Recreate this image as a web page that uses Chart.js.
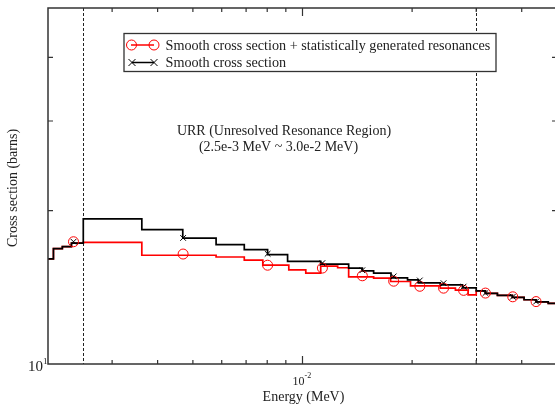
<!DOCTYPE html>
<html>
<head>
<meta charset="utf-8">
<script src="https://cdn.jsdelivr.net/npm/chart.js@4.4.1/dist/chart.umd.min.js"></script>
<style>
html,body{margin:0;padding:0;background:#fff;overflow:hidden;}
#wrap{width:563px;height:406px;}
</style>
</head>
<body>
<div id="wrap"><canvas id="c" width="563" height="406"></canvas></div>
<script>
// ---- data (energies in MeV, cross sections in barns) ----
const blackEdges = [0.002,0.00207,0.00219,0.00232,0.0025,0.00362,0.00469,0.00579,0.00692,0.00802,0.0091,0.01122,0.01339,0.0146,0.01568,0.0175,0.01943,0.0208,0.0239,0.0275,0.030,0.0318,0.0343,0.0377,0.0406,0.0438,0.0473,0.05];
const blackLevels = [16.09,16.84,17.0,17.27,19.27,18.36,17.66,17.15,16.77,16.39,15.90,15.70,15.43,15.24,15.08,14.76,14.63,14.43,14.30,14.11,13.92,13.76,13.64,13.52,13.37,13.24,13.15];
const redEdges = [0.002,0.00207,0.00219,0.00232,0.0025,0.00362,0.00579,0.00692,0.00778,0.00917,0.01021,0.01122,0.01249,0.01339,0.01568,0.01746,0.0198,0.0239,0.0263,0.0285,0.030,0.0318,0.0343,0.0377,0.0406,0.0438,0.0473,0.05];
const redLevels = [16.09,16.84,17.0,17.27,17.33,16.35,16.22,15.99,15.63,15.31,15.08,15.56,15.45,14.83,14.74,14.52,14.24,14.09,13.97,13.67,13.92,13.76,13.64,13.52,13.37,13.24,13.15];
const markerE = [0.00235,0.0047,0.00802,0.01134,0.0146,0.0178,0.0210,0.0244,0.0277,0.0318,0.0378,0.0438];
const redMarkY = [17.38,16.44,15.63,15.43,14.90,14.54,14.21,14.09,13.95,13.78,13.55,13.26];
const blackMarkY = [17.38,17.68,16.46,15.78,15.28,14.86,14.59,14.41,14.19,13.78,13.55,13.26];
const xTicksMinor = [0.003,0.004,0.005,0.006,0.007,0.008,0.009,0.02,0.03,0.04];
const xTicksMajor = [0.01];
const yTicksMinor = [20,30,40];
const urrBounds = [0.0025,0.030];
const legendLabels = ['Smooth cross section + statistically generated resonances','Smooth cross section'];

function steps(edges, levels){
  const pts = levels.map((v,i)=>({x:edges[i], y:v}));
  pts.push({x:edges[edges.length-1], y:levels[levels.length-1]});
  return pts;
}
const SERIF = '"Liberation Serif","DejaVu Serif",serif';
const FRAME = '#333';

const decor = {
  id:'decor',
  beforeDatasetsDraw(chart){
    const {ctx, chartArea:a, scales:{x}} = chart;
    ctx.save();
    ctx.strokeStyle = '#222'; ctx.lineWidth = 1; ctx.setLineDash([3,2]);
    urrBounds.forEach(e=>{
      const px = Math.round(x.getPixelForValue(e))+0.5;
      ctx.beginPath(); ctx.moveTo(px,a.top); ctx.lineTo(px,a.bottom); ctx.stroke();
    });
    ctx.restore();
  },
  afterDatasetsDraw(chart){
    const {ctx, chartArea:a, scales:{x,y}} = chart;
    ctx.save();
    ctx.strokeStyle = FRAME; ctx.lineWidth = 1.5;
    ctx.strokeRect(a.left, a.top, a.right-a.left, a.bottom-a.top);
    ctx.lineWidth = 1.2;
    const tick=(px,len)=>{
      ctx.beginPath(); ctx.moveTo(px,a.bottom); ctx.lineTo(px,a.bottom-len);
      ctx.moveTo(px,a.top); ctx.lineTo(px,a.top+len); ctx.stroke();
    };
    xTicksMinor.forEach(v=>tick(x.getPixelForValue(v),4));
    xTicksMajor.forEach(v=>tick(x.getPixelForValue(v),8));
    yTicksMinor.forEach(v=>{
      const py = y.getPixelForValue(v);
      ctx.beginPath(); ctx.moveTo(a.left,py); ctx.lineTo(a.left+5,py);
      ctx.moveTo(a.right,py); ctx.lineTo(a.right-5,py); ctx.stroke();
    });
    ctx.fillStyle = '#222';
    ctx.textBaseline = 'alphabetic';
    ctx.font = '15px '+SERIF; ctx.textAlign='right';
    const y10 = y.getPixelForValue(10);
    ctx.fillText('10', a.left-5, y10+7);
    ctx.font = '9px '+SERIF; ctx.textAlign='left';
    ctx.fillText('1', a.left-5, y10);
    const x01 = x.getPixelForValue(0.01);
    ctx.font = '12px '+SERIF; ctx.textAlign='right';
    ctx.fillText('10', x01+2, a.bottom+21);
    ctx.font = '8px '+SERIF; ctx.textAlign='left';
    ctx.fillText('-2', x01+2, a.bottom+14);
    ctx.font = '14px '+SERIF; ctx.textAlign='center';
    ctx.fillText('Energy (MeV)', (x01+1), a.bottom+37);
    ctx.save();
    ctx.translate(17, 188); ctx.rotate(-Math.PI/2);
    ctx.fillText('Cross section (barns)', 0, 0);
    ctx.restore();
    ctx.font = '14px '+SERIF;
    ctx.fillText('URR (Unresolved Resonance Region)', 284, 135);
    ctx.fillText('(2.5e-3 MeV ~ 3.0e-2 MeV)', 278.5, 151);
    ctx.fillStyle='#fff';
    ctx.fillRect(124,33.5,372,38);
    ctx.strokeStyle = FRAME; ctx.lineWidth=1.3;
    ctx.strokeRect(124,33.5,372,38);
    ctx.fillStyle='#222'; ctx.textAlign='left';
    ctx.font = '14.2px '+SERIF;
    ctx.fillText(legendLabels[0], 165.5, 50);
    ctx.fillText(legendLabels[1], 165.5, 67);
    ctx.lineWidth=1.5; ctx.strokeStyle='#ff0000';
    ctx.beginPath(); ctx.moveTo(131,45); ctx.lineTo(154,45); ctx.stroke();
    ctx.lineWidth=1;
    [131.5,154].forEach(cx=>{ctx.beginPath(); ctx.arc(cx,45,5,0,Math.PI*2); ctx.stroke();});
    ctx.strokeStyle='#000'; ctx.lineWidth=1.5;
    ctx.beginPath(); ctx.moveTo(132,62.5); ctx.lineTo(154,62.5); ctx.stroke();
    ctx.lineWidth=1;
    [132,154].forEach(cx=>{ctx.beginPath(); ctx.moveTo(cx-3.5,59); ctx.lineTo(cx+3.5,66); ctx.moveTo(cx+3.5,59); ctx.lineTo(cx-3.5,66); ctx.stroke();});
    ctx.restore();
  }
};

new Chart(document.getElementById('c'), {
  type:'line',
  data:{datasets:[
    {label:legendLabels[0], data:steps(redEdges,redLevels), stepped:'before', borderColor:'#ff0000', borderWidth:1.7, pointRadius:0, order:4},
    {label:legendLabels[1], data:steps(blackEdges,blackLevels), stepped:'before', borderColor:'#000', borderWidth:1.7, pointRadius:0, order:3},
    {type:'scatter', data:markerE.map((e,i)=>({x:e,y:redMarkY[i]})), pointStyle:'circle', pointRadius:5, borderColor:'#ff0000', backgroundColor:'rgba(0,0,0,0)', borderWidth:1, order:2},
    {type:'scatter', data:markerE.map((e,i)=>({x:e,y:blackMarkY[i]})), pointStyle:'crossRot', pointRadius:4, borderColor:'#000', borderWidth:1, order:1}
  ]},
  options:{
    responsive:false, animation:false, events:[],
    layout:{padding:{top:8,right:3,left:0,bottom:0}},
    plugins:{legend:{display:false}, tooltip:{enabled:false}},
    scales:{
      x:{type:'logarithmic', min:0.002, max:0.05, ticks:{display:false}, grid:{display:false}, border:{display:false}, afterFit(s){s.height=42;}},
      y:{type:'logarithmic', min:10, max:50, ticks:{display:false}, grid:{display:false}, border:{display:false}, afterFit(s){s.width=48;}}
    }
  },
  plugins:[decor]
});
</script>
</body>
</html>
